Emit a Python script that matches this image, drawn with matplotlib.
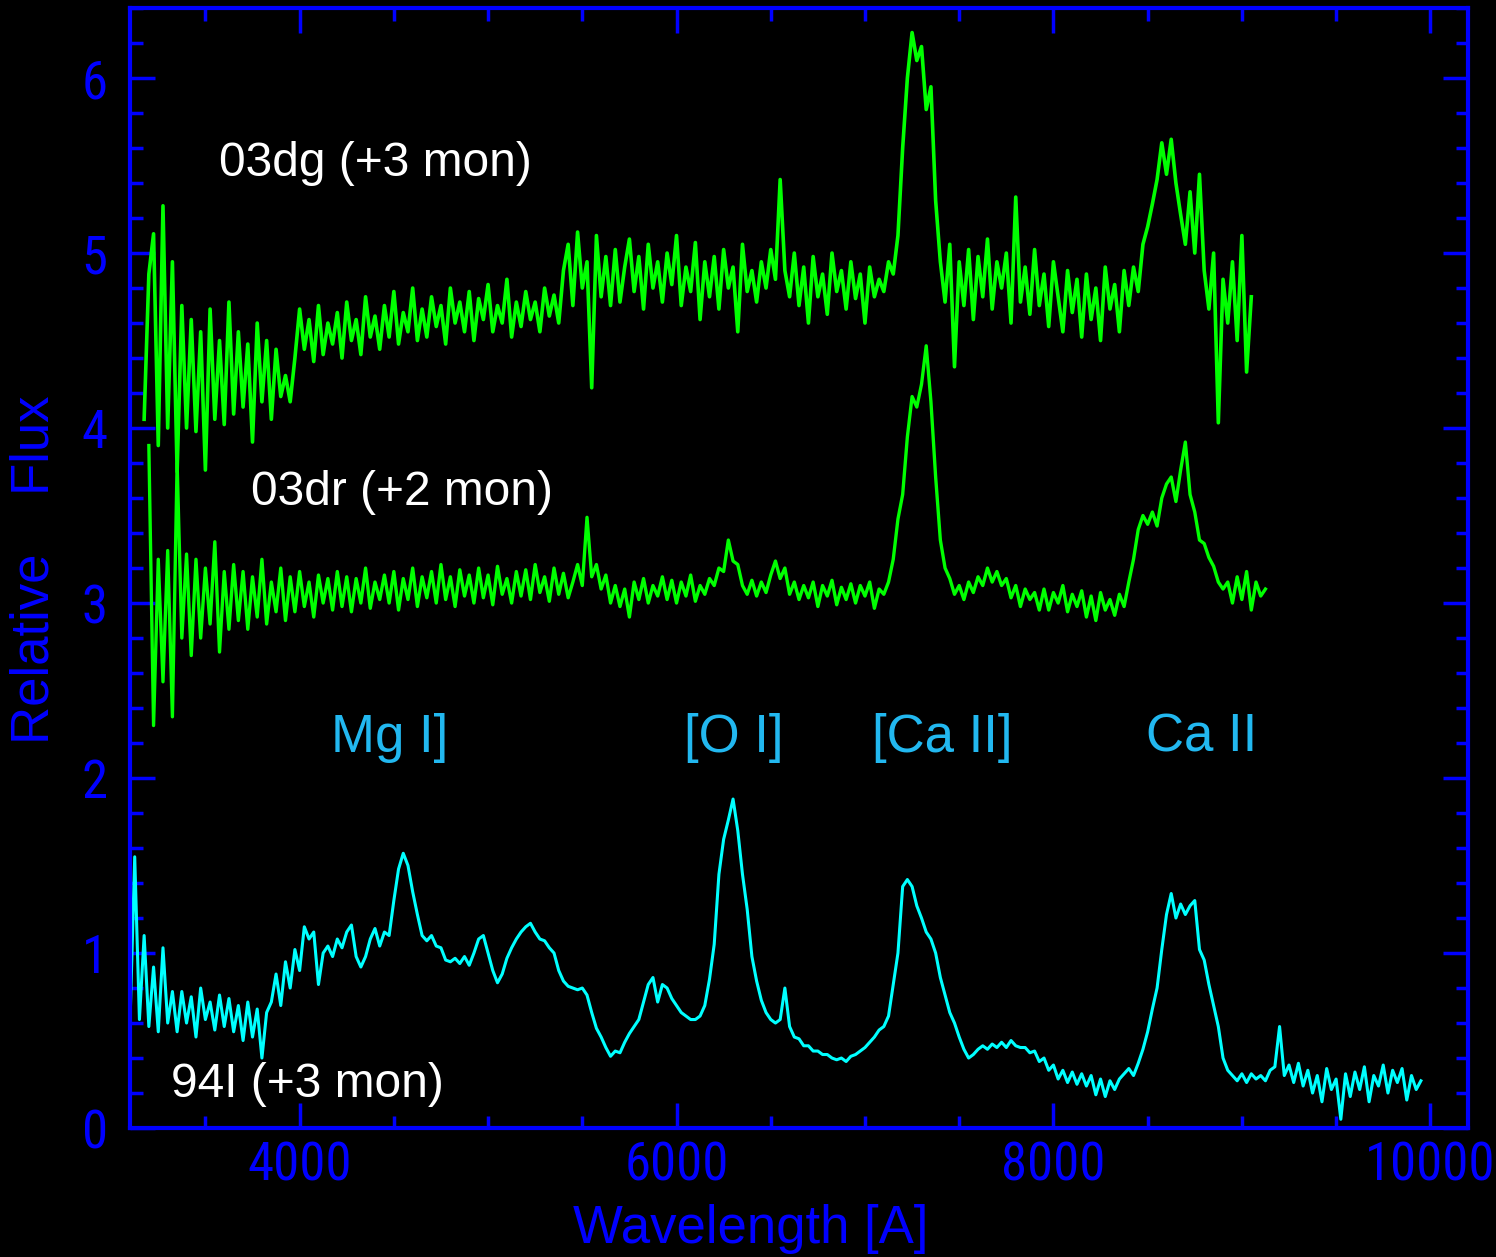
import matplotlib
matplotlib.use("Agg")
import matplotlib.pyplot as plt
import matplotlib.font_manager as fm
from matplotlib.ticker import MultipleLocator
import numpy as np

# SN 2003dg, +3 months: flux sampled every 25 A from 3175 to 9050 A
wave_03dg = (3175, 9050)
flux_03dg = [
    4.05, 4.88, 5.11, 3.90, 5.27, 4.00, 4.95, 3.75, 4.70, 4.00,
    4.62, 3.98, 4.55, 3.76, 4.68, 4.05, 4.50, 4.02, 4.72, 4.08,
    4.55, 4.12, 4.48, 3.92, 4.60, 4.15, 4.50, 4.05, 4.45, 4.18,
    4.30, 4.15, 4.40, 4.68, 4.45, 4.62, 4.38, 4.70, 4.42, 4.60,
    4.48, 4.66, 4.40, 4.72, 4.50, 4.62, 4.42, 4.75, 4.52, 4.64,
    4.45, 4.70, 4.52, 4.78, 4.48, 4.66, 4.55, 4.80, 4.50, 4.68,
    4.52, 4.75, 4.58, 4.70, 4.48, 4.80, 4.60, 4.72, 4.55, 4.78,
    4.50, 4.74, 4.62, 4.82, 4.55, 4.70, 4.60, 4.85, 4.52, 4.72,
    4.58, 4.78, 4.62, 4.72, 4.55, 4.80, 4.64, 4.76, 4.60, 4.90,
    5.05, 4.70, 5.12, 4.80, 4.95, 4.23, 5.10, 4.75, 4.98, 4.70,
    5.02, 4.72, 4.92, 5.08, 4.78, 4.98, 4.68, 5.05, 4.80, 4.95,
    4.72, 5.00, 4.82, 5.10, 4.70, 4.92, 4.78, 5.06, 4.62, 4.95,
    4.75, 4.98, 4.68, 5.02, 4.80, 4.92, 4.55, 5.05, 4.78, 4.90,
    4.72, 4.95, 4.80, 5.02, 4.85, 5.42, 4.90, 4.75, 5.00, 4.70,
    4.92, 4.60, 4.98, 4.75, 4.88, 4.65, 5.00, 4.78, 4.90, 4.68,
    4.95, 4.74, 4.88, 4.60, 4.92, 4.75, 4.85, 4.78, 4.95, 4.88,
    5.10, 5.60, 6.00, 6.26, 6.10, 6.18, 5.82, 5.95, 5.30, 4.95,
    4.72, 5.05, 4.35, 4.95, 4.70, 5.02, 4.62, 4.98, 4.75, 5.08,
    4.68, 4.95, 4.80, 5.00, 4.60, 5.32, 4.72, 4.92, 4.65, 5.02,
    4.70, 4.88, 4.58, 4.95, 4.75, 4.55, 4.90, 4.66, 4.85, 4.52,
    4.88, 4.62, 4.80, 4.50, 4.92, 4.68, 4.82, 4.55, 4.90, 4.70,
    4.92, 4.78, 5.05, 5.15, 5.28, 5.42, 5.63, 5.45, 5.65, 5.40,
    5.22, 5.05, 5.35, 5.00, 5.45, 4.90, 4.68, 5.00, 4.03, 4.85,
    4.60, 4.95, 4.50, 5.10, 4.32, 4.75,
]

# SN 2003dr, +2 months: every 25 A from 3200 to 9125 A
wave_03dr = (3200, 9125)
flux_03dr = [
    3.90, 2.30, 3.25, 2.55, 3.30, 2.35, 3.80, 2.80, 3.28, 2.70,
    3.25, 2.80, 3.20, 2.88, 3.35, 2.72, 3.18, 2.85, 3.22, 2.90,
    3.18, 2.85, 3.15, 2.92, 3.25, 2.88, 3.12, 2.95, 3.20, 2.90,
    3.15, 2.95, 3.18, 2.98, 3.12, 2.92, 3.16, 3.00, 3.14, 2.96,
    3.18, 2.98, 3.15, 2.95, 3.14, 3.00, 3.20, 2.97, 3.12, 3.02,
    3.16, 3.00, 3.18, 2.96, 3.14, 3.02, 3.20, 2.98, 3.15, 3.03,
    3.18, 3.00, 3.22, 3.02, 3.15, 2.98, 3.19, 3.04, 3.16, 3.00,
    3.20, 3.03, 3.16, 2.99, 3.21, 3.05, 3.14, 3.00, 3.18, 3.04,
    3.19, 3.02, 3.22, 3.06, 3.15, 3.01, 3.20, 3.05, 3.17, 3.03,
    3.12, 3.22, 3.10, 3.49, 3.15, 3.22, 3.08, 3.16, 3.00, 3.10,
    2.98, 3.08, 2.92, 3.12, 3.02, 3.14, 3.00, 3.10, 3.04, 3.15,
    3.02, 3.13, 3.00, 3.12, 3.04, 3.16, 3.01, 3.10, 3.05, 3.14,
    3.10, 3.20, 3.18, 3.36, 3.24, 3.22, 3.10, 3.05, 3.13, 3.04,
    3.12, 3.06, 3.16, 3.24, 3.14, 3.20, 3.05, 3.12, 3.02, 3.10,
    3.03, 3.12, 2.98, 3.10, 3.04, 3.13, 2.99, 3.09, 3.02, 3.11,
    3.00, 3.10, 3.04, 3.12, 2.97, 3.08, 3.05, 3.12, 3.25, 3.48,
    3.62, 3.95, 4.18, 4.12, 4.25, 4.47, 4.15, 3.72, 3.36, 3.20,
    3.14, 3.05, 3.10, 3.02, 3.12, 3.06, 3.15, 3.10, 3.20, 3.12,
    3.18, 3.10, 3.14, 3.03, 3.10, 2.98, 3.08, 3.02, 3.06, 2.96,
    3.08, 2.96, 3.06, 3.00, 3.10, 2.95, 3.05, 2.98, 3.07, 2.92,
    3.04, 2.90, 3.06, 2.96, 3.02, 2.93, 3.05, 2.98, 3.12, 3.25,
    3.42, 3.50, 3.45, 3.52, 3.44, 3.60, 3.68, 3.72, 3.58, 3.76,
    3.92, 3.62, 3.52, 3.36, 3.34, 3.26, 3.21, 3.12, 3.08, 3.12,
    3.00, 3.15, 3.02, 3.18, 2.96, 3.12, 3.04, 3.08,
]

# SN 1994I, +3 months: every 25 A from 3100 to 9950 A
wave_94i = (3100, 9950)
flux_94i = [
    0.60, 1.55, 0.62, 1.10, 0.58, 0.92, 0.55, 1.03, 0.60, 0.78,
    0.55, 0.78, 0.60, 0.75, 0.52, 0.80, 0.62, 0.72, 0.56, 0.76,
    0.58, 0.74, 0.55, 0.70, 0.50, 0.72, 0.52, 0.68, 0.40, 0.66,
    0.72, 0.88, 0.70, 0.95, 0.80, 1.02, 0.90, 1.15, 1.08, 1.12,
    0.82, 1.00, 1.04, 0.98, 1.08, 1.03, 1.12, 1.16, 0.98, 0.92,
    0.98, 1.08, 1.14, 1.04, 1.12, 1.10, 1.30, 1.48, 1.57, 1.50,
    1.35, 1.22, 1.10, 1.07, 1.10, 1.04, 1.03, 0.96, 0.95, 0.97,
    0.94, 0.98, 0.93, 1.00, 1.08, 1.10, 1.00, 0.90, 0.83, 0.88,
    0.97, 1.03, 1.08, 1.12, 1.15, 1.17, 1.12, 1.08, 1.07, 1.03,
    1.00, 0.90, 0.84, 0.81, 0.80, 0.79, 0.80, 0.76, 0.66, 0.57,
    0.52, 0.46, 0.41, 0.44, 0.43, 0.49, 0.54, 0.58, 0.62, 0.72,
    0.82, 0.86, 0.72, 0.82, 0.80, 0.74, 0.70, 0.66, 0.64, 0.62,
    0.62, 0.64, 0.70, 0.85, 1.05, 1.45, 1.65, 1.76, 1.88, 1.70,
    1.45, 1.25, 0.98, 0.84, 0.73, 0.66, 0.62, 0.60, 0.62, 0.80,
    0.58, 0.52, 0.51, 0.47, 0.47, 0.44, 0.44, 0.42, 0.42, 0.40,
    0.39, 0.40, 0.38, 0.41, 0.42, 0.44, 0.46, 0.49, 0.52, 0.56,
    0.58, 0.64, 0.82, 1.00, 1.38, 1.42, 1.38, 1.27, 1.20, 1.12,
    1.08, 1.00, 0.86, 0.76, 0.66, 0.60, 0.52, 0.45, 0.40, 0.42,
    0.45, 0.47, 0.45, 0.48, 0.46, 0.49, 0.46, 0.50, 0.47, 0.46,
    0.46, 0.43, 0.44, 0.38, 0.40, 0.33, 0.36, 0.28, 0.33, 0.26,
    0.32, 0.25, 0.31, 0.24, 0.30, 0.19, 0.28, 0.18, 0.27, 0.22,
    0.28, 0.31, 0.34, 0.30, 0.37, 0.45, 0.55, 0.68, 0.80, 1.02,
    1.22, 1.34, 1.20, 1.28, 1.22, 1.27, 1.30, 1.02, 0.96, 0.82,
    0.70, 0.58, 0.40, 0.33, 0.30, 0.27, 0.31, 0.26, 0.31, 0.28,
    0.30, 0.27, 0.33, 0.35, 0.58, 0.30, 0.36, 0.26, 0.37, 0.24,
    0.33, 0.20, 0.30, 0.15, 0.34, 0.22, 0.28, 0.05, 0.31, 0.18,
    0.32, 0.22, 0.35, 0.15, 0.30, 0.24, 0.36, 0.20, 0.33, 0.26,
    0.34, 0.16, 0.30, 0.22, 0.27,
]

# labels: (text, wavelength, flux)
sn_labels = [("03dg (+3 mon)", 3570, 5.51),
             ("03dr (+2 mon)", 3740, 3.63),
             ("94I (+3 mon)", 3315, 0.25)]
line_labels = [("Mg I]", 4164, 2.23),
               ("[O I]", 6042, 2.23),
               ("[Ca II]", 7039, 2.23),
               ("Ca II", 8493, 2.23)]

BLUE = "#0000FF"
LABEL_BLUE = "#22B8F0"
text_font = ["Liberation Sans", "DejaVu Sans"]


def narrow_font():
    """Pick a condensed face for the axis numbers if one is installed."""
    entries = fm.fontManager.ttflist
    names = {e.name for e in entries}
    for want in ("Liberation Sans Narrow", "Noto Sans ExtraCondensed",
                 "Noto Sans Condensed", "DejaVu Sans Condensed",
                 "Roboto Condensed", "Open Sans Condensed"):
        if want in names:
            return dict(family=want, size=38)
    for e in entries:
        if (e.name in ("Noto Sans", "DejaVu Sans", "Roboto", "Open Sans")
                and str(e.stretch) in ("condensed", "extra-condensed",
                                       "semi-condensed")
                and e.style == "normal"):
            return dict(family=e.name, stretch=e.stretch, size=36)
    return dict(family="DejaVu Sans", size=29)


tick_font = narrow_font()


def spectrum(rng, flux):
    flux = np.asarray(flux)
    return np.linspace(rng[0], rng[1], flux.size), flux


fig = plt.figure(figsize=(14.96, 12.57), dpi=100, facecolor="black")
ax = fig.add_axes([0.0869, 0.1026, 0.8944, 0.8910], facecolor="black")

for rng, flux, col, lw in [(wave_03dg, flux_03dg, "#00FF00", 2.6),
                           (wave_03dr, flux_03dr, "#00FF00", 2.4),
                           (wave_94i, flux_94i, "#00FFFF", 2.2)]:
    w, f = spectrum(rng, flux)
    ax.plot(w, f, color=col, lw=lw)

ax.set_xlim(3100, 10200)
ax.set_ylim(0, 6.4)

ax.xaxis.set_major_locator(MultipleLocator(2000))
ax.xaxis.set_minor_locator(MultipleLocator(500))
ax.yaxis.set_major_locator(MultipleLocator(1))
ax.yaxis.set_minor_locator(MultipleLocator(0.2))

for s in ax.spines.values():
    s.set_color(BLUE)
    s.set_linewidth(3)

ax.tick_params(which="both", direction="in", colors=BLUE, width=2.5,
               top=True, right=True)
ax.tick_params(which="major", length=18)
ax.tick_params(which="minor", length=9)
ax.tick_params(axis="x", which="major", pad=9)
ax.tick_params(axis="y", which="major", pad=16)
for lab in ax.get_xticklabels() + ax.get_yticklabels():
    lab.set_family(tick_font["family"])
    if "stretch" in tick_font:
        lab.set_stretch(tick_font["stretch"])
    lab.set_fontsize(tick_font["size"])
    lab.set_color(BLUE)

for txt, x, y in sn_labels:
    ax.text(x, y, txt, color="white", fontsize=34.5, family=text_font,
            ha="left", va="center")
for txt, x, y in line_labels:
    ax.text(x, y, txt, color=LABEL_BLUE, fontsize=38, family=text_font,
            ha="left", va="center")

fig.text(751 / 1496, 1 - 1229 / 1257, "Wavelength [A]", color=BLUE,
         fontsize=38, family=text_font, ha="center", va="center")
fig.text(35 / 1496, 1 - 570 / 1257, "Relative    Flux", color=BLUE,
         fontsize=38, family=text_font, ha="center", va="center",
         rotation=90)

fig.savefig("out.png", dpi=100, facecolor="black")
